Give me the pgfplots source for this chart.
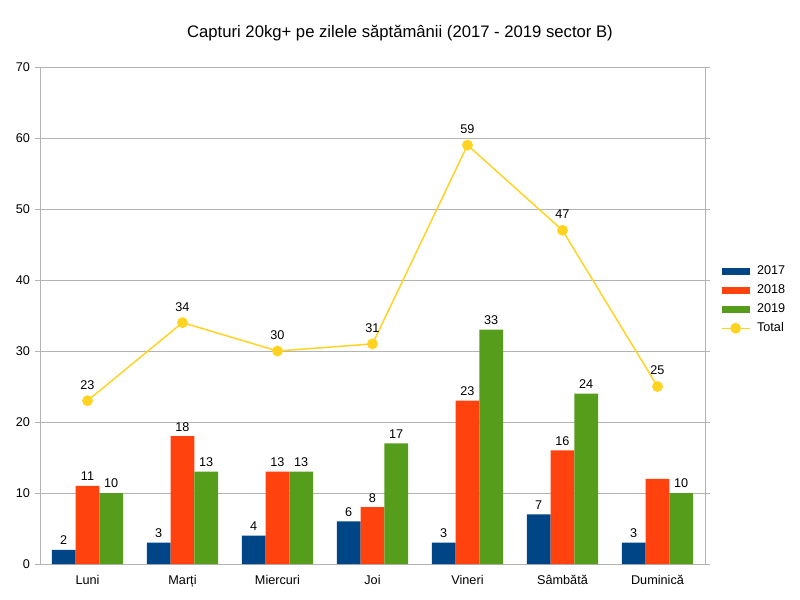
\documentclass[border=0pt]{standalone}
\usepackage{pgfplots}
\pgfplotsset{compat=1.18}
\usepackage{fontspec}
\setmainfont{Liberation Sans}
\definecolor{c17}{HTML}{004586}
\definecolor{c18}{HTML}{FF420E}
\definecolor{c19}{HTML}{579D1C}
\definecolor{ctot}{HTML}{FFD320}
\definecolor{gridc}{HTML}{B3B3B3}
\begin{document}
\begin{tikzpicture}
\begin{axis}[
  at={(0,0)}, anchor=south west,
  scale only axis, width=498.75pt, height=372.75pt,
  xmin=-0.5, xmax=6.5, ymin=0, ymax=70,
  xtick={0,...,6},
  xticklabels={Luni,Marți,Miercuri,Joi,Vineri,Sâmbătă,Duminică},
  x tick style={draw=none},
  ytick={0,10,...,70},
  y tick style={draw=gridc},
  tick align=outside, major tick length=4pt,
  extra x ticks={-0.5,0.5,...,6.5},
  extra x tick labels={},
  extra x tick style={major tick length=4pt, tick style={draw=gridc}, grid=none},
  ymajorgrids, grid style={draw=gridc, line width=0.5pt},
  axis line style={draw=gridc},
  /pgf/number format/assume math mode=true,
  tick label style={font=\fontsize{9.5}{11}\selectfont},
  xticklabel style={yshift=-1pt},
  legend style={at={(510.5pt,198pt)}, anchor=west, draw=none, fill=none,
    font=\fontsize{9.5}{11}\selectfont, row sep=3pt, inner sep=0pt,
    legend cell align=left, nodes={inner ysep=1.5pt, inner xsep=5pt}},
  point meta=explicit symbolic,
  nodes near coords style={font=\fontsize{9.5}{11}\selectfont, black, inner sep=2pt, yshift=1.5pt},
]
\addplot[ybar, bar width=0.25, bar shift=0, fill=c17, draw=none,
  nodes near coords,
  legend image code/.code={\fill[c17] (0pt,-2.6pt) rectangle (21pt,2.6pt);}]
  coordinates {(-0.25,2)[2] (0.75,3)[3] (1.75,4)[4] (2.75,6)[6] (3.75,3)[3] (4.75,7)[7] (5.75,3)[3]};
\addlegendentry{2017}
\addplot[ybar, bar width=0.25, bar shift=0, fill=c18, draw=none,
  nodes near coords,
  legend image code/.code={\fill[c18] (0pt,-2.6pt) rectangle (21pt,2.6pt);}]
  coordinates {(0,11)[11] (1,18)[18] (2,13)[13] (3,8)[8] (4,23)[23] (5,16)[16] (6,12)[]};
\addlegendentry{2018}
\addplot[ybar, bar width=0.25, bar shift=0, fill=c19, draw=none,
  nodes near coords,
  legend image code/.code={\fill[c19] (0pt,-2.6pt) rectangle (21pt,2.6pt);}]
  coordinates {(0.25,10)[10] (1.25,13)[13] (2.25,13)[13] (3.25,17)[17] (4.25,33)[33] (5.25,24)[24] (6.25,10)[10]};
\addlegendentry{2019}
\addplot[color=ctot, line width=1.1pt, mark=*, mark size=3.5pt,
  mark options={fill=ctot, draw=ctot},
  nodes near coords, nodes near coords style={yshift=4.5pt},
  legend image code/.code={\draw[ctot, line width=1.1pt] (0pt,0pt) -- (21pt,0pt);
    \fill[ctot] (10.5pt,0pt) circle (3.5pt);}]
  coordinates {(0,23)[23] (1,34)[34] (2,30)[30] (3,31)[31] (4,59)[59] (5,47)[47] (6,25)[25]};
\addlegendentry{Total}
\draw[gridc] (rel axis cs:0,1) -- (rel axis cs:1,1) -- (rel axis cs:1,0);
\end{axis}
\node[font=\fontsize{12.5}{14}\selectfont] at (270pt,398.25pt) {Capturi 20kg+ pe zilele săptămânii (2017 - 2019 sector B)};
\path[use as bounding box] (-30pt,-27pt) rectangle (570pt,423pt);
\end{tikzpicture}
\end{document}
